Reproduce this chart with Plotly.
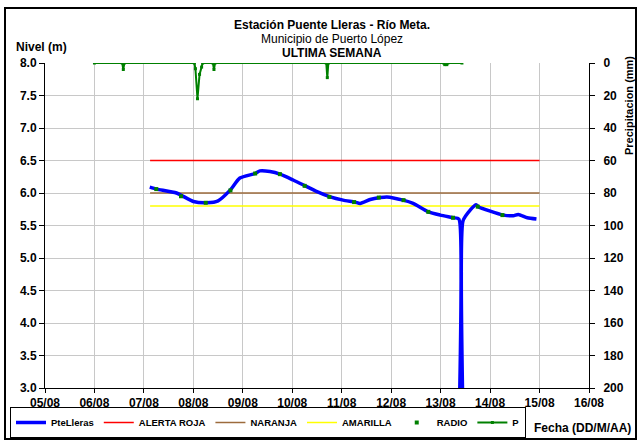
import plotly.graph_objects as go

# ---------------- data ----------------
nivel_time = [
    "2013-08-07 02:50", "2013-08-07 06:15", "2013-08-07 15:50", "2013-08-08 00:00",
    "2013-08-08 06:30", "2013-08-08 12:00", "2013-08-08 17:45", "2013-08-08 22:35",
    "2013-08-09 06:00", "2013-08-09 08:20", "2013-08-09 13:10", "2013-08-09 18:05",
    "2013-08-10 00:25", "2013-08-10 06:15", "2013-08-10 12:00", "2013-08-10 18:25",
    "2013-08-11 00:40", "2013-08-11 06:30", "2013-08-11 08:55", "2013-08-11 13:50",
    "2013-08-11 18:40", "2013-08-11 21:55", "2013-08-12 05:50", "2013-08-12 10:40",
    "2013-08-12 18:00", "2013-08-12 23:50", "2013-08-13 06:10", "2013-08-13 08:50",
    "2013-08-13 09:10", "2013-08-13 10:35", "2013-08-13 10:50", "2013-08-13 14:25",
    "2013-08-13 17:15", "2013-08-13 18:15", "2013-08-14 00:05", "2013-08-14 06:25",
    "2013-08-14 11:15", "2013-08-14 13:40", "2013-08-14 18:05", "2013-08-14 22:30",
]
nivel_val = [
    6.09, 6.06, 6.00, 5.87,
    5.85, 5.88, 6.04, 6.23,
    6.30, 6.34, 6.33, 6.29,
    6.20, 6.11, 6.02, 5.94,
    5.89, 5.86, 5.84, 5.90,
    5.93, 5.94, 5.89, 5.84,
    5.71, 5.66, 5.62, 5.60,
    0.50, 0.50, 5.57, 5.74,
    5.82, 5.79, 5.72, 5.66,
    5.65, 5.67, 5.62, 5.60,
]

umbral_time = ["2013-08-07 03:00", "2013-08-15 00:00"]
alerta_roja = [6.5, 6.5]
naranja = [6.0, 6.0]
amarilla = [5.8, 5.8]

radio_time = [
    "2013-08-07 06:00", "2013-08-07 18:00", "2013-08-08 06:00", "2013-08-08 18:00",
    "2013-08-09 06:00", "2013-08-09 18:00", "2013-08-10 06:00", "2013-08-10 18:00",
    "2013-08-11 06:00", "2013-08-11 18:00", "2013-08-12 06:00", "2013-08-12 18:00",
    "2013-08-13 06:00", "2013-08-13 18:00", "2013-08-14 06:00",
]
radio_val = [6.06, 5.95, 5.85, 6.04, 6.30, 6.29, 6.11, 5.94, 5.86, 5.93,
             5.89, 5.71, 5.62, 5.79, 5.66]

p_time = [
    "2013-08-06 00:00", "2013-08-06 13:30", "2013-08-06 14:00", "2013-08-06 14:30",
    "2013-08-08 00:30", "2013-08-08 01:00", "2013-08-08 02:00", "2013-08-08 03:00",
    "2013-08-08 04:00", "2013-08-08 04:30", "2013-08-08 09:30", "2013-08-08 10:00",
    "2013-08-08 10:30", "2013-08-10 16:30", "2013-08-10 17:00", "2013-08-10 17:30",
    "2013-08-13 01:30", "2013-08-13 02:00", "2013-08-13 03:00", "2013-08-13 03:30",
    "2013-08-13 10:20",
]
p_val = [0, 0, 4, 0,
         0, 3.5, 22, 7,
         2.5, 0, 0, 4,
         0, 0, 9, 0,
         0, 1, 1, 0,
         0]

x_range = ["2013-08-05", "2013-08-16"]

# ---------------- figure ----------------
FONT = "Arial, Liberation Sans, sans-serif"
L, R, T, B = 45, 51, 63, 53
W, H = 640, 441
PW, PH = W - L - R, H - T - B


def px(xp):
    return (xp - L) / PW


def py(yp):
    return (H - B - yp) / PH


fig = go.Figure()

fig.add_trace(go.Scatter(x=umbral_time, y=alerta_roja, mode="lines", name="ALERTA ROJA",
                         line=dict(color="#ff0000", width=1.5), legendrank=2))
fig.add_trace(go.Scatter(x=umbral_time, y=naranja, mode="lines", name="NARANJA",
                         line=dict(color="#9c6b3c", width=1.5), legendrank=3))
fig.add_trace(go.Scatter(x=umbral_time, y=amarilla, mode="lines", name="AMARILLA",
                         line=dict(color="#ffff00", width=1.5), legendrank=4))
fig.add_trace(go.Scatter(x=nivel_time, y=nivel_val, mode="lines", name="PteLleras",
                         line=dict(color="#0000ff", width=3.5, shape="spline", smoothing=0.6),
                         legendrank=1))
fig.add_trace(go.Scatter(x=radio_time, y=radio_val, mode="markers", name="RADIO",
                         marker=dict(color="#008000", size=4, symbol="square"), legendrank=5))
fig.add_trace(go.Scatter(x=p_time, y=p_val, mode="lines+markers", name="P", yaxis="y2",
                         line=dict(color="#008000", width=2),
                         marker=dict(color="#008000", size=3, symbol="square"), legendrank=6))


def note(text, x, y, size=12, angle=0):
    return dict(text=text, xref="paper", yref="paper", x=px(x), y=py(y),
                xanchor="center", yanchor="middle", textangle=angle,
                showarrow=False, font=dict(size=size))


fig.update_layout(
    width=W, height=H,
    margin=dict(l=L, r=R, t=T, b=B, pad=0, autoexpand=False),
    paper_bgcolor="white", plot_bgcolor="white",
    font=dict(family=FONT, size=12, color="black"),
    showlegend=True,
    legend=dict(orientation="h", x=px(10), y=py(407), xanchor="left", yanchor="top",
                bordercolor="black", borderwidth=1,
                font=dict(family=FONT, size=9.5, weight="bold", color="black")),
    xaxis=dict(type="date", range=x_range, dtick=86400000, tickformat="%d/%m",
               showgrid=True, gridcolor="#c8c8c8", gridwidth=1,
               showline=True, linecolor="black", linewidth=1,
               ticks="outside", ticklen=4, tickcolor="black",
               tickfont=dict(family=FONT, size=12, weight="bold"), zeroline=False),
    yaxis=dict(range=[3, 8], dtick=0.5, tickformat=".1f",
               showgrid=True, gridcolor="#c8c8c8", gridwidth=1,
               showline=True, linecolor="black", linewidth=1,
               ticks="outside", ticklen=5, tickcolor="black",
               tickfont=dict(family=FONT, size=12, weight="bold"), zeroline=False),
    yaxis2=dict(range=[200, 0], dtick=20, overlaying="y", side="right",
                showgrid=False, showline=True, linecolor="black", linewidth=1,
                ticks="outside", ticklen=5, tickcolor="black", ticklabelstandoff=6,
                tickfont=dict(family=FONT, size=12, weight="bold"), zeroline=False),
    shapes=[dict(type="rect", xref="paper", yref="paper",
                 x0=px(5), x1=px(636), y0=py(439), y1=py(8),
                 line=dict(color="black", width=2), layer="above")],
    annotations=[
        note("<b>Estación Puente Lleras - Río Meta.</b>", 332, 25),
        note("Municipio de Puerto López", 332, 39),
        note("<b>ULTIMA SEMANA</b>", 332, 53),
        note("<b>Nivel (m)</b>", 41, 47),
        note("<b>Precipitacion (mm)</b>", 629, 106, size=11, angle=-90),
        note("<b>Fecha (DD/M/AA)</b>", 582, 428),
    ],
)

fig.write_html("out.html", config={"displayModeBar": False},
               post_script="document.body.style.margin='0';document.body.style.overflow='hidden';")
